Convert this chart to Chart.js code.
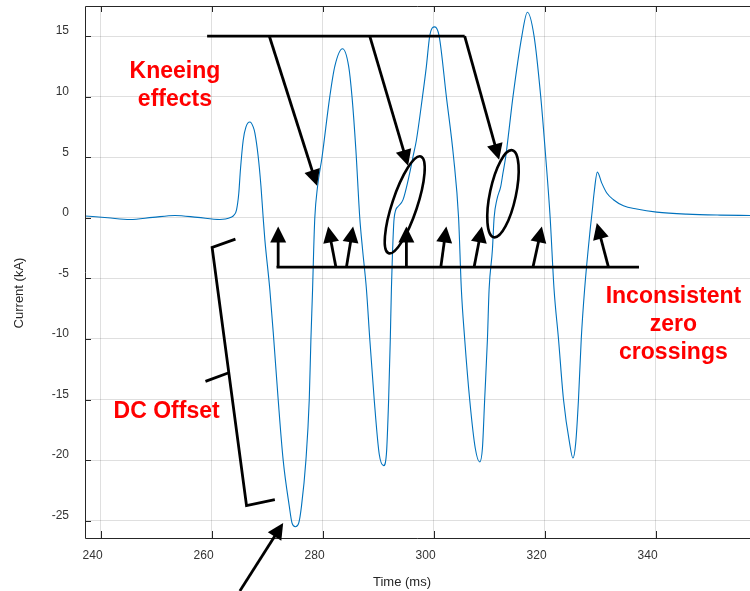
<!DOCTYPE html>
<html>
<head>
<meta charset="utf-8">
<script src="https://cdn.jsdelivr.net/npm/chart.js@4/dist/chart.umd.min.js"></script>
<style>
html,body{margin:0;padding:0;background:#fff;}
#wrap{position:relative;width:750px;height:591px;}
</style>
</head>
<body>
<div id="wrap"><canvas id="c" width="750" height="591"></canvas></div>
<script>
// ---- data ----
const timeMs = [237.2,241.3,245.3,249.4,253.4,257.5,261.5,262.5,263.5,264.0,264.5,264.9,265.2,265.7,266.2,266.9,267.5,267.8,268.4,268.9,269.3,269.6,270.5,271.2,272.0,272.9,274.0,274.5,275.1,275.7,276.2,277.0,277.6,277.9,278.2,278.4,278.6,279.1,279.9,281.3,282.2,283.6,284.7,285.3,286.0,286.7,287.2,287.9,288.5,289.3,290.2,291.0,291.5,291.9,292.2,292.4,292.9,293.6,294.5,295.7,296.3,296.9,298.0,298.7,299.3,300.2,301.0,302.3,303.6,304.5,305.0,305.6,306.5,307.5,308.3,308.8,309.2,309.7,310.0,310.6,310.9,311.4,312.1,312.5,313.0,313.6,314.3,315.9,316.9,318.1,319.3,320.2,321.0,321.7,322.5,323.4,324.5,325.1,325.6,326.1,326.6,327.2,328.2,328.6,328.9,329.5,330.3,331.2,332.4,334.2,336.6,340.2,345.6,351.6,357.0];
const currentKA = [0.15,0.0,-0.14,0.03,0.19,0.03,-0.14,-0.1,0.05,0.2,0.66,2.0,3.96,6.4,7.5,7.9,7.5,7.0,5.06,2.6,0.0,-1.8,-5.94,-10,-15,-20,-23.8,-25.2,-25.5,-25.2,-23.8,-20,-15,-10,-5.9,-2.6,0.0,2.6,5.0,10,12.5,13.95,12.5,10,5.6,0.0,-2.6,-5.9,-10,-15,-19.5,-20.46,-19.5,-15,-10,-5.9,0.0,0.93,1.5,3.7,5.06,6.4,10,12.5,15,15.76,15,10,5,0.0,-5.9,-10,-15,-19,-20.15,-19,-15,-10,-5.9,-2.6,0.0,1.5,2.6,3.7,5.06,7.3,10,15,16.97,15,10,5,0.0,-5.9,-10,-15,-18.6,-19.83,-18.6,-15,-10,-5.94,-1.0,0.66,2.0,3.77,2.86,2.04,1.49,0.99,0.72,0.47,0.30,0.22,0.19];
const xTicks = [240,260,280,300,320,340];
const yTicks = [-25,-20,-15,-10,-5,0,5,10,15];
const xRange = [237.2,357];
const yRange = [-26.43,17.48];
const xTitle = 'Time (ms)';
const yTitle = 'Current (kA)';

// ---- annotation geometry (in data units: ms, kA) ----
const annotations = {
  lines: [
    [[259.2,15],[305.6,15]],
    [[271.7,-4.07],[337.0,-4.07]],
    [[264.3,-1.76],[260.1,-2.45],[266.3,-23.76],[271.4,-23.27]],
    [[258.9,-13.5],[263.1,-12.79]]
  ],
  arrows: [
    [[270.4,15],[279.0,2.64]],
    [[288.5,15],[295.4,4.29]],
    [[305.6,15],[311.8,4.79]],
    [[272.0,-4.07],[272.0,-0.72]],
    [[282.4,-4.07],[281.0,-0.72]],
    [[284.3,-4.07],[285.5,-0.72]],
    [[295.1,-4.07],[295.1,-0.72]],
    [[301.3,-4.07],[302.3,-0.72]],
    [[307.3,-4.07],[308.7,-0.72]],
    [[317.9,-4.07],[319.5,-0.72]],
    [[331.5,-4.07],[329.4,-0.44]],
    [[265.1,-30.8],[272.9,-25.19]]
  ],
  ellipses: [
    {c:[294.8,1.07], rx:12.5, ry:51, rot:18.4},
    {c:[312.5,1.98], rx:13, ry:44.5, rot:12}
  ],
  texts: [
    {at:[253.4,11.55], lines:['Kneeing','effects']},
    {at:[251.9,-16.53], lines:['DC Offset']},
    {at:[343.2,-7.05], lines:['Inconsistent','zero','crossings']}
  ]
};

const FONT = '"Liberation Sans", Arial, Helvetica, sans-serif';
const AXIS = '#262626';

const annotPlugin = {
  id: 'annot',
  afterDraw(chart) {
    const {ctx, chartArea: a, scales: {x, y}} = chart;
    const P = (p) => [x.getPixelForValue(p[0]), y.getPixelForValue(p[1])];
    ctx.save();
    // box & inner ticks
    ctx.strokeStyle = AXIS; ctx.lineWidth = 1;
    ctx.beginPath();
    ctx.moveTo(a.right, a.top + 0.5); ctx.lineTo(a.left + 0.5, a.top + 0.5);
    ctx.lineTo(a.left + 0.5, a.bottom + 0.5); ctx.lineTo(a.right, a.bottom + 0.5);
    xTicks.forEach(v => {
      const px = Math.round(x.getPixelForValue(v)) + 0.5;
      ctx.moveTo(px, a.top); ctx.lineTo(px, a.top + 6);
      ctx.moveTo(px, a.bottom); ctx.lineTo(px, a.bottom - 7);
    });
    yTicks.forEach(v => {
      const py = Math.round(y.getPixelForValue(v)) + 0.5;
      ctx.moveTo(a.left, py); ctx.lineTo(a.left + 6, py);
    });
    ctx.stroke();

    // axis titles
    ctx.fillStyle = AXIS;
    ctx.font = '13px ' + FONT;
    ctx.textAlign = 'center'; ctx.textBaseline = 'middle';
    ctx.fillText(xTitle, 402, 582);
    ctx.save();
    ctx.translate(19, 293); ctx.rotate(-Math.PI / 2);
    ctx.fillText(yTitle, 0, 0);
    ctx.restore();

    // annotations
    ctx.strokeStyle = '#000'; ctx.fillStyle = '#000';
    ctx.lineWidth = 2.8; ctx.lineJoin = 'miter'; ctx.lineCap = 'butt';
    annotations.lines.forEach(pts => {
      ctx.beginPath();
      pts.forEach((p, i) => { const q = P(p); i ? ctx.lineTo(q[0], q[1]) : ctx.moveTo(q[0], q[1]); });
      ctx.stroke();
    });
    annotations.arrows.forEach(([s, t]) => {
      const p0 = P(s), p1 = P(t);
      const dx = p1[0] - p0[0], dy = p1[1] - p0[1];
      const L = Math.hypot(dx, dy), ux = dx / L, uy = dy / L;
      const hl = 16, hw = 8;
      const bx = p1[0] - ux * hl, by = p1[1] - uy * hl;
      ctx.beginPath(); ctx.moveTo(p0[0], p0[1]); ctx.lineTo(bx + ux * 2, by + uy * 2); ctx.stroke();
      ctx.beginPath();
      ctx.moveTo(p1[0], p1[1]);
      ctx.lineTo(bx - uy * hw, by + ux * hw);
      ctx.lineTo(bx + uy * hw, by - ux * hw);
      ctx.closePath(); ctx.fill();
    });
    ctx.lineWidth = 2.6;
    annotations.ellipses.forEach(e => {
      const c = P(e.c);
      ctx.beginPath();
      ctx.ellipse(c[0], c[1], e.rx, e.ry, e.rot * Math.PI / 180, 0, Math.PI * 2);
      ctx.stroke();
    });
    ctx.fillStyle = '#ff0000';
    ctx.font = 'bold 23px ' + FONT;
    ctx.textAlign = 'center'; ctx.textBaseline = 'alphabetic';
    annotations.texts.forEach(t => {
      const p = P(t.at);
      t.lines.forEach((s, i) => ctx.fillText(s, p[0], p[1] + i * 28));
    });
    ctx.restore();
  }
};

const noPad = s => { s.paddingTop = 0; s.paddingBottom = 0; s.paddingLeft = 0; s.paddingRight = 0; };

new Chart(document.getElementById('c'), {
  type: 'line',
  data: {
    datasets: [{
      data: timeMs.map((t, i) => ({x: t, y: currentKA[i]})),
      borderColor: '#0072BD',
      borderWidth: 1.1,
      pointRadius: 0,
      fill: false,
      cubicInterpolationMode: 'monotone'
    }]
  },
  options: {
    responsive: false,
    devicePixelRatio: 1,
    animation: false,
    layout: {padding: {top: 6, right: 0, left: 0, bottom: 0}},
    plugins: {legend: {display: false}, tooltip: {enabled: false}, title: {display: false}},
    scales: {
      x: {
        type: 'linear', min: xRange[0], max: xRange[1],
        afterBuildTicks: s => { s.ticks = xTicks.map(v => ({value: v})); },
        afterFit: s => { s.height = 53; noPad(s); },
        grid: {color: 'rgba(38,38,38,0.15)', lineWidth: 1, drawTicks: false},
        border: {display: false},
        ticks: {padding: 10, labelOffset: -8, color: '#333', font: {family: FONT, size: 12}, maxRotation: 0, autoSkip: false}
      },
      y: {
        type: 'linear', min: yRange[0], max: yRange[1],
        afterBuildTicks: s => { s.ticks = yTicks.map(v => ({value: v})); },
        afterFit: s => { s.width = 85; noPad(s); },
        grid: {color: 'rgba(38,38,38,0.15)', lineWidth: 1, drawTicks: false},
        border: {display: false},
        ticks: {padding: 16, labelOffset: -5, color: '#333', font: {family: FONT, size: 12}, autoSkip: false}
      }
    }
  },
  plugins: [annotPlugin]
});
</script>
</body>
</html>
